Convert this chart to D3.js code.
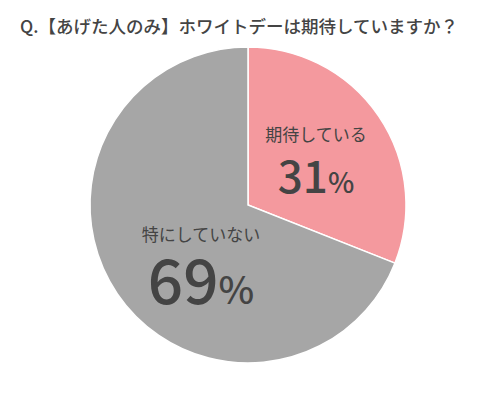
<!DOCTYPE html>
<html><head><meta charset="utf-8">
<script src="https://cdn.jsdelivr.net/npm/d3@7"></script>
<style>body{margin:0;background:#fff}</style></head>
<body><svg id="c" width="499" height="405"></svg>
<script>
const title = "Q.【あげた人のみ】ホワイトデーは期待していますか？";
const categories = ["期待している", "特にしていない"];
const values = [31, 69];
const colors = ["#f4999e", "#a6a6a6"];

const svg = d3.select("#c");
const font = "'Noto Sans CJK JP', sans-serif";
svg.append("text").attr("x", 20).attr("y", 33)
  .attr("font-family", font).attr("font-size", 17.5).attr("font-weight", 500).attr("fill", "#444").text(title);

const cx = 248, cy = 205, r = 158;
const pie = d3.pie().sort(null)(values);
const arc = d3.arc().innerRadius(0).outerRadius(r);
const g = svg.append("g").attr("transform", `translate(${cx},${cy})`);
g.selectAll("path").data(pie).join("path").attr("d", arc)
  .attr("fill", (d, i) => colors[i]).attr("stroke", "#fff").attr("stroke-width", 1.5);

const lab = [
  {dx: 68, dy: -64, name: 17, num: 44, pct: 28, ny: -12},
  {dx: -47, dy: 36, name: 17, num: 62, pct: 38, ny: 99}
];
pie.forEach((d, i) => {
  const L = lab[i];
  g.append("text").attr("x", L.dx).attr("y", L.dy).attr("text-anchor", "middle")
    .attr("font-family", font).attr("font-size", L.name).attr("fill", "#444").text(categories[i]);
  const t = g.append("text").attr("x", L.dx).attr("y", L.ny).attr("text-anchor", "middle")
    .attr("font-family", font).attr("fill", "#444");
  t.append("tspan").attr("font-size", L.num).attr("font-weight", 500).text(values[i]);
  t.append("tspan").attr("font-size", L.pct).attr("font-weight", 500).text("%");
});
</script></body></html>
